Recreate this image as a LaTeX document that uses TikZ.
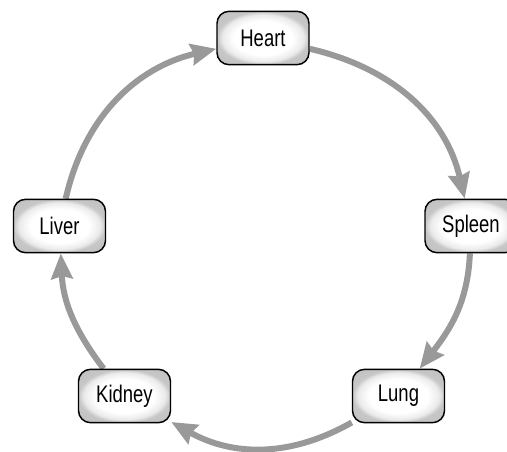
\documentclass[tikz,border=0pt]{standalone}
\usepackage{fontspec}
\setmainfont[FakeStretch=0.77]{Liberation Sans}
\usetikzlibrary{arrows.meta,backgrounds}
\definecolor{arrowgray}{RGB}{153,153,153}
\pgfdeclareradialshading{organshade}{\pgfpoint{0bp}{0bp}}{%
  color(0bp)=(white); color(16bp)=(white); color(22bp)=(black!8);
  color(25bp)=(black!22); color(50bp)=(black!30)}
\tikzset{
  organ/.style={draw=black, line width=1.1pt, rounded corners=9pt,
    minimum width=69pt, minimum height=40pt, inner sep=2pt,
    shading=organshade,
    font=\fontsize{18}{21}\selectfont},
  flow/.style={draw=arrowgray, line width=4.5pt,
    -{Stealth[length=19pt,width=16pt,inset=2pt]}}
}
\begin{document}
\begin{tikzpicture}[x=0.75pt,y=0.75pt]
\useasboundingbox (-263,-207) rectangle (244,244);
\node[organ] (heart)  at (0,206)       {Heart};
\node[organ] (spleen) at (208,18)      {Spleen};
\node[organ] (lung)   at (135.5,-152)  {Lung};
\node[organ] (kidney) at (-138.5,-152) {Kidney};
\node[organ] (liver)  at (-203.5,18)   {Liver};
\begin{pgfonlayer}{background}
\draw[flow] (heart)  to[out=-13,in=103]   (spleen);
\draw[flow] (spleen) to[out=-92.5,in=52.4] (lung);
\draw[flow] (lung)   to[out=-150.8,in=-29.2] (kidney);
\draw[flow] (kidney) to[out=127.6,in=-87.5] (liver);
\draw[flow] (liver)  to[out=77.3,in=-167] (heart);
\end{pgfonlayer}
\end{tikzpicture}
\end{document}
